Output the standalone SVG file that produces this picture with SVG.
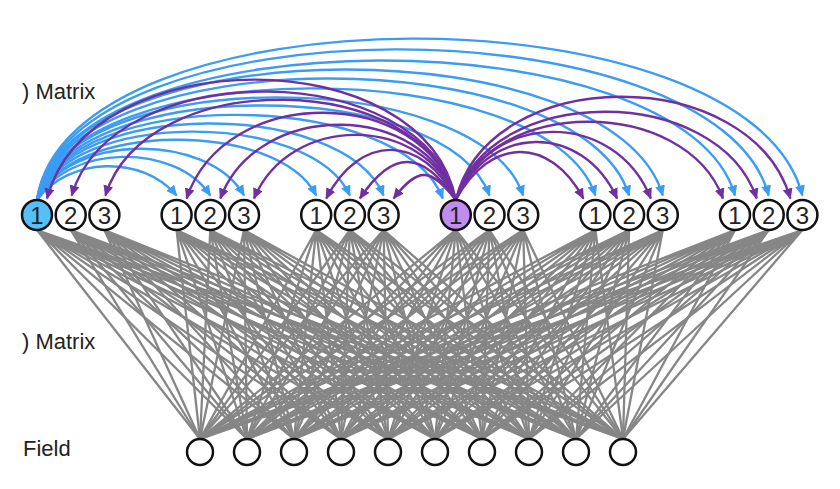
<svg xmlns="http://www.w3.org/2000/svg" width="840" height="489" viewBox="0 0 840 489">
<defs>
<style>
.lbl{font-family:"Liberation Sans",Arial,sans-serif;font-size:22px;fill:#222}
.num{font-family:"Liberation Sans",Arial,sans-serif;font-size:24px;fill:#222;text-anchor:middle}
.node{fill:#fff;stroke:#111;stroke-width:2.5}
.gray{fill:none;stroke:#868686;stroke-width:2.3}
.blue{fill:none;stroke:#3a9cf2;stroke-width:2.4;marker-end:url(#ab)}
.purp{fill:none;stroke:#7030a0;stroke-width:2.4;marker-end:url(#ap)}
</style>
<marker id="ab" markerUnits="userSpaceOnUse" markerWidth="12" markerHeight="11" refX="10" refY="5" orient="auto"><path d="M0,0 L11,5 L0,10 z" fill="#3a9cf2"/></marker>
<marker id="ap" markerUnits="userSpaceOnUse" markerWidth="12" markerHeight="11" refX="10" refY="5" orient="auto"><path d="M0,0 L11,5 L0,10 z" fill="#7030a0"/></marker>
</defs>
<rect width="840" height="489" fill="#fff"/>
<text class="lbl" x="22" y="99">) Matrix</text>
<text class="lbl" x="22" y="349">) Matrix</text>
<text class="lbl" x="23" y="456">Field</text>
<g id="connectors">
<g id="dense">
<path class="gray" d="M37 230L200 439M37 230L247 439M37 230L294 439M37 230L341 439M37 230L388 439M37 230L435 439M37 230L482 439M37 230L529 439M37 230L576 439M37 230L623 439"/>
<path class="gray" d="M70.7 230L200 439M70.7 230L247 439M70.7 230L294 439M70.7 230L341 439M70.7 230L388 439M70.7 230L435 439M70.7 230L482 439M70.7 230L529 439M70.7 230L576 439M70.7 230L623 439"/>
<path class="gray" d="M104.4 230L200 439M104.4 230L247 439M104.4 230L294 439M104.4 230L341 439M104.4 230L388 439M104.4 230L435 439M104.4 230L482 439M104.4 230L529 439M104.4 230L576 439M104.4 230L623 439"/>
<path class="gray" d="M176.6 230L200 439M176.6 230L247 439M176.6 230L294 439M176.6 230L341 439M176.6 230L388 439M176.6 230L435 439M176.6 230L482 439M176.6 230L529 439M176.6 230L576 439M176.6 230L623 439"/>
<path class="gray" d="M210.3 230L200 439M210.3 230L247 439M210.3 230L294 439M210.3 230L341 439M210.3 230L388 439M210.3 230L435 439M210.3 230L482 439M210.3 230L529 439M210.3 230L576 439M210.3 230L623 439"/>
<path class="gray" d="M244 230L200 439M244 230L247 439M244 230L294 439M244 230L341 439M244 230L388 439M244 230L435 439M244 230L482 439M244 230L529 439M244 230L576 439M244 230L623 439"/>
<path class="gray" d="M316.2 230L200 439M316.2 230L247 439M316.2 230L294 439M316.2 230L341 439M316.2 230L388 439M316.2 230L435 439M316.2 230L482 439M316.2 230L529 439M316.2 230L576 439M316.2 230L623 439"/>
<path class="gray" d="M349.9 230L200 439M349.9 230L247 439M349.9 230L294 439M349.9 230L341 439M349.9 230L388 439M349.9 230L435 439M349.9 230L482 439M349.9 230L529 439M349.9 230L576 439M349.9 230L623 439"/>
<path class="gray" d="M383.6 230L200 439M383.6 230L247 439M383.6 230L294 439M383.6 230L341 439M383.6 230L388 439M383.6 230L435 439M383.6 230L482 439M383.6 230L529 439M383.6 230L576 439M383.6 230L623 439"/>
<path class="gray" d="M455.8 230L200 439M455.8 230L247 439M455.8 230L294 439M455.8 230L341 439M455.8 230L388 439M455.8 230L435 439M455.8 230L482 439M455.8 230L529 439M455.8 230L576 439M455.8 230L623 439"/>
<path class="gray" d="M489.5 230L200 439M489.5 230L247 439M489.5 230L294 439M489.5 230L341 439M489.5 230L388 439M489.5 230L435 439M489.5 230L482 439M489.5 230L529 439M489.5 230L576 439M489.5 230L623 439"/>
<path class="gray" d="M523.2 230L200 439M523.2 230L247 439M523.2 230L294 439M523.2 230L341 439M523.2 230L388 439M523.2 230L435 439M523.2 230L482 439M523.2 230L529 439M523.2 230L576 439M523.2 230L623 439"/>
<path class="gray" d="M595.4 230L200 439M595.4 230L247 439M595.4 230L294 439M595.4 230L341 439M595.4 230L388 439M595.4 230L435 439M595.4 230L482 439M595.4 230L529 439M595.4 230L576 439M595.4 230L623 439"/>
<path class="gray" d="M629.1 230L200 439M629.1 230L247 439M629.1 230L294 439M629.1 230L341 439M629.1 230L388 439M629.1 230L435 439M629.1 230L482 439M629.1 230L529 439M629.1 230L576 439M629.1 230L623 439"/>
<path class="gray" d="M662.8 230L200 439M662.8 230L247 439M662.8 230L294 439M662.8 230L341 439M662.8 230L388 439M662.8 230L435 439M662.8 230L482 439M662.8 230L529 439M662.8 230L576 439M662.8 230L623 439"/>
<path class="gray" d="M735 230L200 439M735 230L247 439M735 230L294 439M735 230L341 439M735 230L388 439M735 230L435 439M735 230L482 439M735 230L529 439M735 230L576 439M735 230L623 439"/>
<path class="gray" d="M768.7 230L200 439M768.7 230L247 439M768.7 230L294 439M768.7 230L341 439M768.7 230L388 439M768.7 230L435 439M768.7 230L482 439M768.7 230L529 439M768.7 230L576 439M768.7 230L623 439"/>
<path class="gray" d="M802.4 230L200 439M802.4 230L247 439M802.4 230L294 439M802.4 230L341 439M802.4 230L388 439M802.4 230L435 439M802.4 230L482 439M802.4 230L529 439M802.4 230L576 439M802.4 230L623 439"/>
</g>
<g id="blue-arcs">
<path class="blue" d="M37 200C68 157 142.4 154.5 176.6 195.5"/>
<path class="blue" d="M37 200C68 144 175.1 142.5 210.3 195.5"/>
<path class="blue" d="M37 200C68 133 207.8 131.8 244 195.5"/>
<path class="blue" d="M37 200C68 121 277.8 119.8 316.2 195.5"/>
<path class="blue" d="M37 200C68 110 310.5 109.2 349.9 195.5"/>
<path class="blue" d="M37 200C68 99 343.2 98.5 383.6 195.5"/>
<path class="blue" d="M37 200C68 86 400.6 87.5 442.8 198.5"/>
<path class="blue" d="M37 200C68 75 445.9 74.5 489.5 195.5"/>
<path class="blue" d="M37 200C68 64 478.6 63.8 523.2 195.5"/>
<path class="blue" d="M37 200C68 52 548.6 51.8 595.4 195.5"/>
<path class="blue" d="M37 200C68 39 581.3 38.5 629.1 195.5"/>
<path class="blue" d="M37 200C68 27 614 26.5 662.8 195.5"/>
<path class="blue" d="M37 200C68 15 684.1 14.5 735 195.5"/>
<path class="blue" d="M37 200C68 0 716.7 -0.2 768.7 195.5"/>
<path class="blue" d="M37 200C68 -14 749.4 -14.8 802.4 195.5"/>
</g>
<g id="purple-arcs">
<path class="purp" d="M455.8 200C430.9 167.7 418.5 166.2 393.6 198.5"/>
<path class="purp" d="M455.8 200C422.9 150.3 392.8 148.8 359.9 198.5"/>
<path class="purp" d="M455.8 200C423 134 360.1 132.8 326.2 198.5"/>
<path class="purp" d="M455.8 200C424 114 290.1 112.8 254 198.5"/>
<path class="purp" d="M455.8 200C424 100.5 257.4 99.5 220.3 198.5"/>
<path class="purp" d="M455.8 200C424 84.5 224.7 83.5 186.6 198.5"/>
<path class="purp" d="M455.8 200C424 69 145.9 65.2 105.4 195.5"/>
<path class="purp" d="M455.8 200C424 58 113.2 54.5 71.7 195.5"/>
<path class="purp" d="M455.8 200C424 40 89.3 39.5 47 198.5"/>
<path class="purp" d="M455.8 200C489.6 137 549.6 135.5 583.4 198.5"/>
<path class="purp" d="M455.8 200C489 123.5 582.3 122.2 617.1 198.5"/>
<path class="purp" d="M455.8 200C489 110 614.9 108.8 650.8 198.5"/>
<path class="purp" d="M455.8 200C489 96.5 685 95.5 723 198.5"/>
<path class="purp" d="M455.8 200C489 83 717.7 82.2 756.7 198.5"/>
<path class="purp" d="M455.8 200C489 63 750.4 62.2 790.4 198.5"/>
</g>
</g>
<g id="n1-1"><circle class="node" cx="37" cy="215" r="15" style="fill:#56bef8"/><text class="num" x="37" y="223.6">1</text></g>
<g id="n1-2"><circle class="node" cx="70.7" cy="215" r="15"/><text class="num" x="70.7" y="223.6">2</text></g>
<g id="n1-3"><circle class="node" cx="104.4" cy="215" r="15"/><text class="num" x="104.4" y="223.6">3</text></g>
<g id="n2-1"><circle class="node" cx="176.6" cy="215" r="15"/><text class="num" x="176.6" y="223.6">1</text></g>
<g id="n2-2"><circle class="node" cx="210.3" cy="215" r="15"/><text class="num" x="210.3" y="223.6">2</text></g>
<g id="n2-3"><circle class="node" cx="244" cy="215" r="15"/><text class="num" x="244" y="223.6">3</text></g>
<g id="n3-1"><circle class="node" cx="316.2" cy="215" r="15"/><text class="num" x="316.2" y="223.6">1</text></g>
<g id="n3-2"><circle class="node" cx="349.9" cy="215" r="15"/><text class="num" x="349.9" y="223.6">2</text></g>
<g id="n3-3"><circle class="node" cx="383.6" cy="215" r="15"/><text class="num" x="383.6" y="223.6">3</text></g>
<g id="n4-1"><circle class="node" cx="455.8" cy="215" r="15" style="fill:#c08cf0"/><text class="num" x="455.8" y="223.6">1</text></g>
<g id="n4-2"><circle class="node" cx="489.5" cy="215" r="15"/><text class="num" x="489.5" y="223.6">2</text></g>
<g id="n4-3"><circle class="node" cx="523.2" cy="215" r="15"/><text class="num" x="523.2" y="223.6">3</text></g>
<g id="n5-1"><circle class="node" cx="595.4" cy="215" r="15"/><text class="num" x="595.4" y="223.6">1</text></g>
<g id="n5-2"><circle class="node" cx="629.1" cy="215" r="15"/><text class="num" x="629.1" y="223.6">2</text></g>
<g id="n5-3"><circle class="node" cx="662.8" cy="215" r="15"/><text class="num" x="662.8" y="223.6">3</text></g>
<g id="n6-1"><circle class="node" cx="735" cy="215" r="15"/><text class="num" x="735" y="223.6">1</text></g>
<g id="n6-2"><circle class="node" cx="768.7" cy="215" r="15"/><text class="num" x="768.7" y="223.6">2</text></g>
<g id="n6-3"><circle class="node" cx="802.4" cy="215" r="15"/><text class="num" x="802.4" y="223.6">3</text></g>
<g id="f1"><circle class="node" cx="200" cy="452" r="13"/></g>
<g id="f2"><circle class="node" cx="247" cy="452" r="13"/></g>
<g id="f3"><circle class="node" cx="294" cy="452" r="13"/></g>
<g id="f4"><circle class="node" cx="341" cy="452" r="13"/></g>
<g id="f5"><circle class="node" cx="388" cy="452" r="13"/></g>
<g id="f6"><circle class="node" cx="435" cy="452" r="13"/></g>
<g id="f7"><circle class="node" cx="482" cy="452" r="13"/></g>
<g id="f8"><circle class="node" cx="529" cy="452" r="13"/></g>
<g id="f9"><circle class="node" cx="576" cy="452" r="13"/></g>
<g id="f10"><circle class="node" cx="623" cy="452" r="13"/></g>
</svg>
